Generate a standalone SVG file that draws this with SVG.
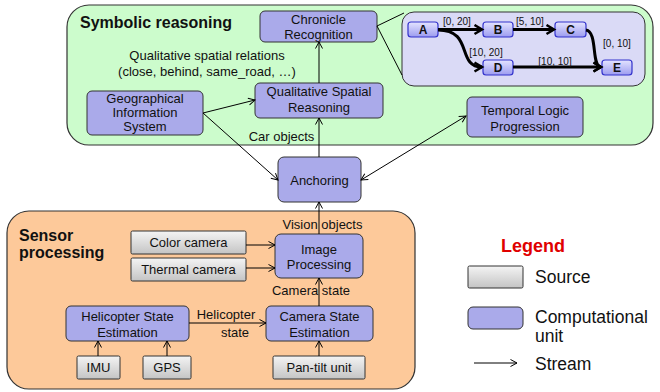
<svg xmlns="http://www.w3.org/2000/svg" width="660" height="392" viewBox="0 0 660 392">
<defs>
<linearGradient id="gsrc" x1="0" y1="0" x2="0" y2="1"><stop offset="0" stop-color="#f4f4f4"/><stop offset="1" stop-color="#c4c4c4"/></linearGradient>
<linearGradient id="gch" x1="0" y1="0" x2="0" y2="1"><stop offset="0" stop-color="#e4e4ff"/><stop offset="1" stop-color="#9c9cf0"/></linearGradient>
<marker id="ar" markerUnits="userSpaceOnUse" markerWidth="10" markerHeight="10" refX="8" refY="5" orient="auto-start-reverse"><path d="M1.5,1.5 L8,5 L1.5,8.5" fill="none" stroke="#000" stroke-width="1"/></marker>
<marker id="tk" markerUnits="userSpaceOnUse" markerWidth="12" markerHeight="12" refX="9" refY="6" orient="auto"><path d="M1.5,1.5 L9,6 L1.5,10.5" fill="none" stroke="#000" stroke-width="2.5"/></marker>
</defs>
<style>
text{font-family:"Liberation Sans",Arial,sans-serif;fill:#111}
.n{font-size:13px;text-anchor:middle}
.lb{font-size:13px;text-anchor:middle}
.comp{fill:#aaaaea;stroke:#333;stroke-width:1}
.src{fill:url(#gsrc);stroke:#333;stroke-width:1}
.ch{fill:url(#gch);stroke:#3333cc;stroke-width:1.2}
.cht{font-size:12px;font-weight:bold;text-anchor:middle}
.cl{font-size:10px;text-anchor:middle}
.title{font-size:16px;font-weight:bold}
.e{fill:none;stroke:#000;stroke-width:1;marker-end:url(#ar)}
.t{fill:none;stroke:#000;stroke-width:3;marker-end:url(#tk)}
.leg{font-size:17.5px}
</style>
<rect x="67" y="5" width="586" height="140" rx="22" fill="#ccfccc" stroke="#333" stroke-width="1.2"/>
<rect x="7" y="211" width="408" height="178" rx="22" fill="#fdc99a" stroke="#333" stroke-width="1.2"/>
<text class="title" x="80" y="28">Symbolic reasoning</text>
<text class="title" x="19" y="241">Sensor</text>
<text class="title" x="19" y="258">processing</text>

<g id="chronicle-panel">
<rect x="402" y="12" width="243" height="74" rx="12" fill="#dadaf6" stroke="#333" stroke-width="1"/>
</g>
<g id="node-A"><rect class="ch" x="408" y="22" width="30" height="15" rx="3"/><text class="cht" x="423" y="34">A</text></g>
<g id="node-B"><rect class="ch" x="483" y="22" width="30" height="15" rx="3"/><text class="cht" x="498" y="34">B</text></g>
<g id="node-C"><rect class="ch" x="555" y="22" width="31" height="15" rx="3"/><text class="cht" x="570.5" y="34">C</text></g>
<g id="node-D"><rect class="ch" x="483" y="60" width="30" height="15" rx="3"/><text class="cht" x="498" y="72">D</text></g>
<g id="node-E"><rect class="ch" x="602" y="60" width="30" height="15" rx="3"/><text class="cht" x="617" y="72">E</text></g>

<g id="chronicle-recognition"><rect class="comp" x="260" y="11" width="117" height="31" rx="5"/><text class="n" x="318.5" y="23.5">Chronicle</text><text class="n" x="318.5" y="38.5">Recognition</text></g>
<g id="qsr"><rect class="comp" x="255" y="83" width="128" height="35" rx="5"/><text class="n" x="319" y="96">Qualitative Spatial</text><text class="n" x="319" y="111.5">Reasoning</text></g>
<g id="gis"><rect class="comp" x="87" y="91" width="116" height="44" rx="5"/><text class="n" x="145" y="102.5">Geographical</text><text class="n" x="145" y="116.5">Information</text><text class="n" x="145" y="131">System</text></g>
<g id="tlp"><rect class="comp" x="467" y="97" width="116" height="40" rx="5"/><text class="n" x="525" y="114.5">Temporal Logic</text><text class="n" x="525" y="130.5">Progression</text></g>
<g id="anchoring"><rect class="comp" x="278" y="157" width="83" height="45" rx="6"/><text class="n" x="319.5" y="185">Anchoring</text></g>
<g id="image-processing"><rect class="comp" x="275" y="234" width="88" height="44" rx="6"/><text class="n" x="319" y="253.5">Image</text><text class="n" x="319" y="268.5">Processing</text></g>
<g id="camera-state"><rect class="comp" x="266" y="306" width="107" height="35" rx="5"/><text class="n" x="319.5" y="320.5">Camera State</text><text class="n" x="319.5" y="336.5">Estimation</text></g>
<g id="heli-state"><rect class="comp" x="66" y="306" width="123" height="35" rx="5"/><text class="n" x="127.5" y="320.5">Helicopter State</text><text class="n" x="127.5" y="336.5">Estimation</text></g>
<g id="color-camera"><rect class="src" x="131" y="231" width="115" height="23" rx="1.5"/><text class="n" x="188.5" y="247">Color camera</text></g>
<g id="thermal-camera"><rect class="src" x="131" y="258" width="115" height="23" rx="1.5"/><text class="n" x="188.5" y="274">Thermal camera</text></g>
<g id="imu"><rect class="src" x="77" y="356" width="43" height="23" rx="1.5"/><text class="n" x="98.5" y="372">IMU</text></g>
<g id="gps"><rect class="src" x="143" y="356" width="48" height="23" rx="1.5"/><text class="n" x="167" y="372">GPS</text></g>
<g id="pan-tilt"><rect class="src" x="273" y="356" width="92" height="23" rx="1.5"/><text class="n" x="319" y="372">Pan-tilt unit</text></g>

<g id="connectors">
<line x1="377" y1="26" x2="404" y2="13" stroke="#000" stroke-width="1"/>
<line x1="377" y1="26" x2="402" y2="75" stroke="#000" stroke-width="1"/>
<line class="t" x1="438" y1="29.5" x2="482" y2="29.5"/>
<line class="t" x1="513" y1="29.5" x2="554" y2="29.5"/>
<path class="t" d="M438,30 C474,30 456,67 482,67"/>
<path class="t" d="M586,30 C598,32 591,67 601,67"/>
<line class="t" x1="513" y1="67" x2="601" y2="67"/>
<line class="e" x1="319" y1="83" x2="319" y2="42"/>
<line class="e" x1="203" y1="113" x2="255" y2="100"/>
<line class="e" x1="203" y1="113" x2="278" y2="180"/>
<line class="e" x1="319" y1="157" x2="319" y2="118"/>
<line class="e" x1="361" y1="180" x2="466" y2="116" marker-start="url(#ar)"/>
<line class="e" x1="319" y1="234" x2="319" y2="202"/>
<line class="e" x1="246" y1="245" x2="275" y2="245"/>
<line class="e" x1="246" y1="268" x2="275" y2="268"/>
<line class="e" x1="319" y1="306" x2="319" y2="278"/>
<line class="e" x1="189" y1="323" x2="266" y2="323"/>
<line class="e" x1="98" y1="356" x2="98" y2="341"/>
<line class="e" x1="167" y1="356" x2="167" y2="341"/>
<line class="e" x1="319" y1="356" x2="319" y2="341"/>
</g>

<g id="labels">
<text class="cl" x="457" y="24.5">[0, 20]</text>
<text class="cl" x="530" y="24.5">[5, 10]</text>
<text class="cl" x="486" y="55.5">[10, 20]</text>
<text class="cl" x="555" y="64.5">[10, 10]</text>
<text class="cl" x="617" y="46.5">[0, 10]</text>
<text class="lb" x="207" y="59.5">Qualitative spatial relations</text>
<text class="lb" x="207" y="75.5">(close, behind, same_road, …)</text>
<text class="lb" x="281.5" y="140.5">Car objects</text>
<text class="lb" x="322.5" y="228.5">Vision objects</text>
<text class="lb" x="311" y="294.5">Camera state</text>
<text class="lb" x="226" y="318.5">Helicopter</text>
<text class="lb" x="235" y="336.5">state</text>
</g>

<g id="legend">
<text x="533" y="252" style="font-size:18px;font-weight:bold;fill:#e00000;text-anchor:middle">Legend</text>
<rect class="src" x="468" y="266" width="55" height="22" rx="1.5"/>
<text class="leg" x="535" y="283">Source</text>
<rect class="comp" x="468" y="307" width="55" height="22" rx="5"/>
<text class="leg" x="535" y="323">Computational</text>
<text class="leg" x="535" y="342">unit</text>
<line class="e" x1="474" y1="363" x2="517" y2="363"/>
<text class="leg" x="535" y="370">Stream</text>
</g>
</svg>
